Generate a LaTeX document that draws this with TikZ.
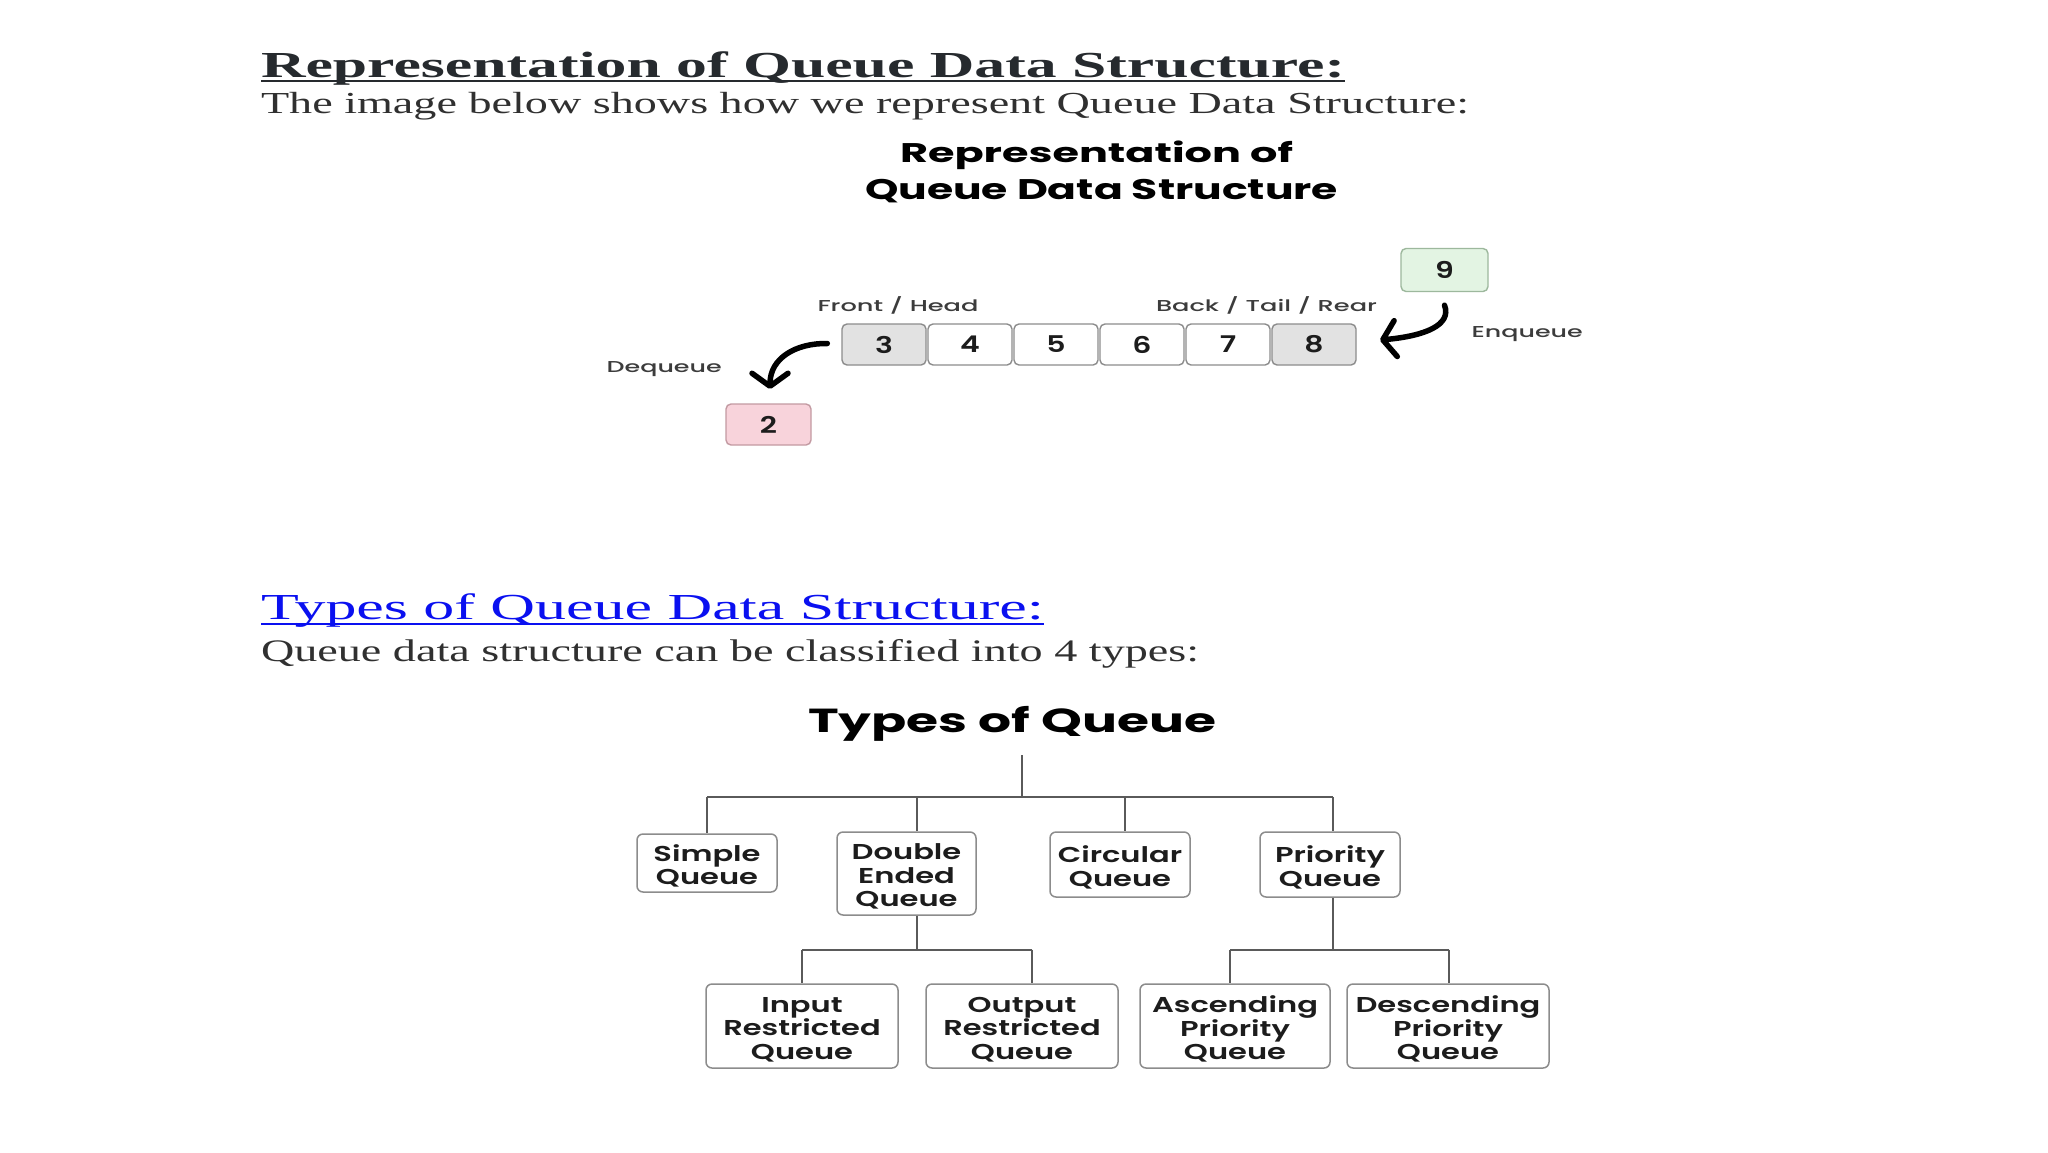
\documentclass[tikz,border=0pt]{standalone}
\usepackage{fontspec}
\usepackage{graphicx}
\usetikzlibrary{arrows.meta}
\newfontfamily\serif{Liberation Serif}
\newfontfamily\pop{Poppins}
\newfontfamily\popsb{Poppins SemiBold}
\newfontfamily\popmd{Poppins Medium}
\newcommand{\fitt}[3]{\resizebox{#1}{#2}{\smash{#3}\rule{0pt}{\fontcharht\font`H}}}
\newcommand{\sx}[2]{\scalebox{#1}[1]{#2}}
\definecolor{headc}{HTML}{262A2E}
\definecolor{bodyc}{HTML}{303030}
\definecolor{linkc}{HTML}{0A10F0}
\definecolor{txt}{HTML}{1C1C1C}
\definecolor{lbl}{HTML}{3C3C3C}
\definecolor{boxgray}{HTML}{8C8C8C}
\definecolor{linegray}{HTML}{5A5A5A}
\definecolor{qgray}{HTML}{E2E2E2}
\definecolor{qgreen}{HTML}{E3F4E3}
\definecolor{qgreenb}{HTML}{9DB89D}
\definecolor{qpink}{HTML}{F8D3DB}
\definecolor{qpinkb}{HTML}{C39AA2}
\tikzset{
  txtline/.style={anchor=base west, inner sep=0pt, outer sep=0pt},
  poplbl/.style={anchor=base west, inner sep=0pt, outer sep=0pt, text=lbl, font=\popmd\fontsize{16}{16}\selectfont},
  poptitle/.style={anchor=base west, inner sep=0pt, outer sep=0pt, text=black, font=\pop\bfseries\fontsize{30}{30}\selectfont},
  qbox/.style={draw=boxgray, fill=white, rounded corners=5pt, line width=1.4pt, inner sep=0pt,
    minimum width=84pt, minimum height=41pt, text=txt, font=\popsb\fontsize{23}{23}\selectfont},
  tbox/.style={draw=boxgray, fill=white, rounded corners=6pt, line width=1.5pt, inner sep=0pt,
    text=txt, font=\popsb\fontsize{21.5}{23.5}\selectfont},
  tline/.style={draw=linegray, line width=2pt},
  curvarrow/.style={line width=5.5pt, line cap=round, draw=black,
    -{Straight Barb[length=13pt,width=36pt,line width=5.5pt,round]}}
}
\newcommand{\bt}[1]{\sx{1.42}{\raisebox{-5pt}[\height][\depth]{\begin{tabular}{@{}c@{}}#1\end{tabular}}}}
\begin{document}
\begin{tikzpicture}[x=1pt,y=-1pt]
\useasboundingbox[fill=white] (0,0) rectangle (2048,1152);

% ---------- Section 1 text ----------
\node[txtline, text=headc, font=\serif\bfseries\fontsize{36}{40}\selectfont] (h1) at (261,77)
  {\fitt{1084pt}{24pt}{Representation of Queue Data Structure:}};
\draw[headc, line width=2.5pt] ([yshift=-4pt]h1.base west) -- ([yshift=-4pt]h1.base east);
\node[txtline, text=bodyc, font=\serif\fontsize{30}{34}\selectfont] (p1) at (261,113)
  {\fitt{1208pt}{20pt}{The image below shows how we represent Queue Data Structure:}};

% ---------- Queue diagram ----------
\node[poptitle] (t1a) at (900,162.5) {\fitt{393pt}{19pt}{Representation of}};
\node[poptitle] (t1b) at (865,199) {\fitt{473pt}{20pt}{Queue Data Structure}};

\node[qbox, fill=qgray] (q3) at (884,344.5) {\sx{1.3}{3}};
\node[qbox] (q4) at (970,344.5) {\sx{1.3}{4}};
\node[qbox] (q5) at (1056,344.5) {\sx{1.3}{5}};
\node[qbox] (q6) at (1142,344.5) {\sx{1.3}{6}};
\node[qbox] (q7) at (1228,344.5) {\sx{1.3}{7}};
\node[qbox, fill=qgray] (q8) at (1314,344.5) {\sx{1.3}{8}};
\node[qbox, draw=qgreenb, fill=qgreen, minimum width=87pt, minimum height=43pt] (q9) at (1444.5,270) {\sx{1.3}{9}};
\node[qbox, draw=qpinkb, fill=qpink, minimum width=85pt, minimum height=41pt] (q2) at (768.5,424.5) {\sx{1.3}{2}};

\node[poplbl] (front) at (817.5,311.7) {\fitt{161pt}{11pt}{Front / Head}};
\node[poplbl] (back) at (1156,311.7) {\fitt{221pt}{11pt}{Back / Tail / Rear}};
\node[poplbl] (deq) at (606.7,372.7) {\fitt{115pt}{11pt}{Dequeue}};
\node[poplbl] (enq) at (1471.7,337.5) {\fitt{111pt}{11pt}{Enqueue}};

\coordinate (dqs) at ([xshift=-14pt,yshift=1pt]q3.west);
\coordinate (dqe) at (770,389);
\draw[curvarrow] (dqs) .. controls (796,343) and (770,358) .. (dqe);
\coordinate (eqs) at ([yshift=-13pt]q9.south);
\coordinate (eqe) at (1380,340);
\draw[curvarrow] (eqs) .. controls (1452,325) and (1425,336) .. (eqe);

% ---------- Section 2 text ----------
\node[txtline, text=linkc, font=\serif\fontsize{36}{40}\selectfont] (h2) at (261,619.5)
  {\fitt{783pt}{24pt}{Types of Queue Data Structure:}};
\draw[linkc, line width=2pt] ([yshift=-4pt]h2.base west) -- ([yshift=-4pt]h2.base east);
\node[txtline, text=bodyc, font=\serif\fontsize{30}{34}\selectfont] (p2) at (261,661)
  {\fitt{938pt}{20.5pt}{Queue data structure can be classified into 4 types:}};

% ---------- Types tree ----------
\node[poptitle] (t2) at (808,732) {\fitt{408pt}{23.5pt}{Types of Queue}};

\node[tbox, minimum width=140pt, minimum height=58pt] (simple) at (707,863) {\bt{Simple\\Queue}};
\node[tbox, minimum width=139pt, minimum height=83pt] (deque) at (906.5,873.5) {\bt{Double\\Ended\\Queue}};
\node[tbox, minimum width=140pt, minimum height=65pt] (circ) at (1120,864.5) {\bt{Circular\\Queue}};
\node[tbox, minimum width=140pt, minimum height=65pt] (prio) at (1330,864.5) {\bt{Priority\\Queue}};

\node[tbox, minimum width=192pt, minimum height=84pt] (inr) at (802,1026) {\bt{Input\\Restricted\\Queue}};
\node[tbox, minimum width=192pt, minimum height=84pt] (outr) at (1022,1026) {\bt{Output\\Restricted\\Queue}};
\node[tbox, minimum width=190pt, minimum height=84pt] (asc) at (1235,1026) {\bt{Ascending\\Priority\\Queue}};
\node[tbox, minimum width=202pt, minimum height=84pt] (desc) at (1448,1026) {\bt{Descending\\Priority\\Queue}};

\coordinate (root) at (1021.5,755);
\coordinate (j1) at (1021.5,797.3);
\coordinate (j1l) at (707,797.3);
\coordinate (j1r) at (1333,797.3);
\draw[tline] (root) -- (j1);
\draw[tline] (j1l) -- (j1r);
\draw[tline] (j1l) -- (j1l |- simple.north);
\draw[tline] (917,797.3) -- (917,797.3 |- deque.north);
\draw[tline] (1125,797.3) -- (1125,797.3 |- circ.north);
\draw[tline] (j1r) -- (j1r |- prio.north);

\coordinate (j2) at (917,949.5);
\draw[tline] (917,949.5 |- deque.south) -- (j2);
\draw[tline] (802,949.5) -- (1032,949.5);
\draw[tline] (802,949.5) -- (802,949.5 |- inr.north);
\draw[tline] (1032,949.5) -- (1032,949.5 |- outr.north);

\coordinate (j3) at (1333,949.5);
\draw[tline] (1333,949.5 |- prio.south) -- (j3);
\draw[tline] (1230,949.5) -- (1448.5,949.5);
\draw[tline] (1230,949.5) -- (1230,949.5 |- asc.north);
\draw[tline] (1448.5,949.5) -- (1448.5,949.5 |- desc.north);
\end{tikzpicture}
\end{document}
